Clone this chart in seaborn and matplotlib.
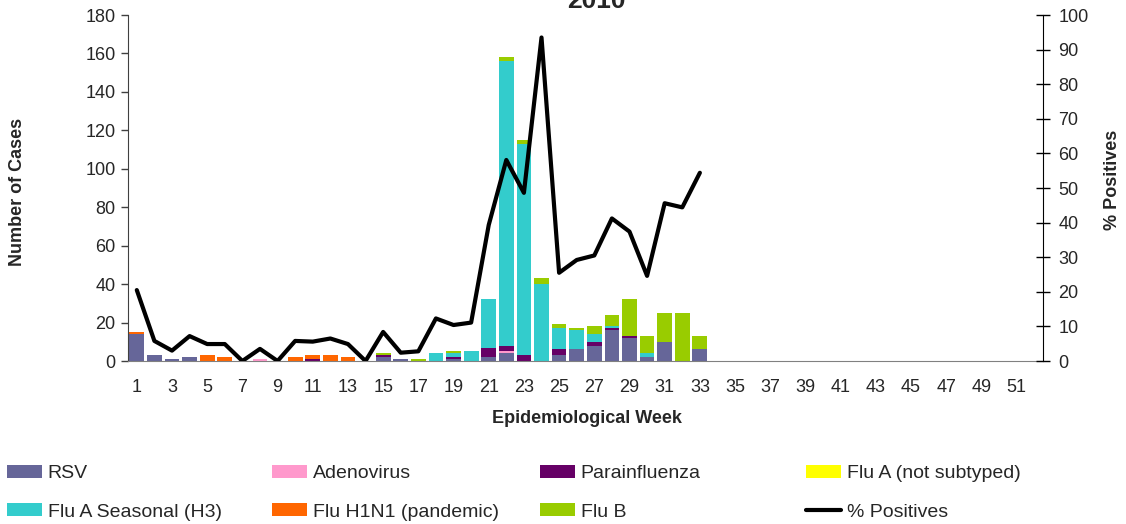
import numpy as np
import pandas as pd
import matplotlib.pyplot as plt
import seaborn as sns
from matplotlib.patches import Patch
from matplotlib.lines import Line2D

# Epidemiological weeks with data (axis runs to week 52)
weeks = list(range(1, 34))

rsv =        [14, 3, 1, 2, 0, 0, 0, 0, 0, 0, 0, 0, 0, 0, 2, 1, 0, 0, 1, 0, 2, 4, 0, 0, 3, 6, 8, 16, 12, 2, 10, 0, 6]
adenovirus = [0, 0, 0, 0, 0, 0, 0, 1, 0, 0, 0, 0, 0, 0, 0, 0, 0, 0, 0, 0, 0, 1, 0, 0, 0, 0, 0, 0, 0, 0, 0, 0, 0]
parainfl =   [0, 0, 0, 0, 0, 0, 0, 0, 0, 0, 1, 0, 0, 0, 1, 0, 0, 0, 1, 0, 5, 3, 3, 0, 3, 0, 2, 1, 1, 0, 0, 0, 0]
flu_a_nst =  [0] * 33
flu_a_h3 =   [0, 0, 0, 0, 0, 0, 0, 0, 0, 0, 0, 0, 0, 0, 0, 0, 0, 4, 2, 5, 25, 148, 110, 40, 11, 10, 4, 1, 0, 2, 0, 0, 0]
flu_h1n1 =   [1, 0, 0, 0, 3, 2, 0, 0, 0, 2, 2, 3, 2, 0, 0, 0, 0, 0, 0, 0, 0, 0, 0, 0, 0, 0, 0, 0, 0, 0, 0, 0, 0]
flu_b =      [0, 0, 0, 0, 0, 0, 0, 0, 0, 0, 0, 0, 0, 0, 1, 0, 1, 0, 1, 0, 0, 2, 2, 3, 2, 1, 4, 6, 19, 9, 15, 25, 7]

pct_positive = [20.5, 5.8, 3.0, 7.2, 4.9, 4.9, 0, 3.5, 0, 5.8, 5.6, 6.5, 4.9, 0, 8.4, 2.4, 2.8,
                12.3, 10.4, 11.1, 39.3, 58.1, 48.6, 93.5, 25.5, 29.2, 30.5, 41.2, 37.4, 24.6,
                45.6, 44.4, 54.4]

series_names = ["RSV", "Adenovirus", "Parainfluenza", "Flu A (not subtyped)",
                "Flu A Seasonal (H3)", "Flu H1N1 (pandemic)", "Flu B"]
series_colors = ["#666699", "#FF99CC", "#660066", "#FFFF00", "#33CCCC", "#FF6600", "#99CC00"]
x_labels = [str(w) for w in range(1, 52, 2)]

sns.set_style("white")
plt.rcParams["font.family"] = ["Liberation Sans", "DejaVu Sans"]

df = pd.DataFrame(dict(zip(series_names,
                           [rsv, adenovirus, parainfl, flu_a_nst, flu_a_h3, flu_h1n1, flu_b])),
                  index=weeks)
cum = df.cumsum(axis=1)

fig = plt.figure(figsize=(11.26, 5.24), dpi=100)
ax = fig.add_axes([128 / 1126, 1 - 361 / 524, 915 / 1126, 346 / 524])

# stacked bars: draw cumulative totals from the top layer down
for name, color in reversed(list(zip(series_names, series_colors))):
    sns.barplot(x=weeks, y=cum[name].values, color=color, saturation=1, native_scale=True,
                width=0.84, errorbar=None, linewidth=0, orient="x", ax=ax)

ax2 = ax.twinx()
sns.lineplot(x=weeks, y=pct_positive, color="black", linewidth=3, ax=ax2)

ax.set_xlim(0.5, 52.5)
ax.set_ylim(0, 180)
ax.set_yticks(range(0, 181, 20))
ax.set_xticks(range(1, 52, 2))
ax.set_xticklabels(x_labels)
ax.set_xticks(np.arange(0.5, 53, 1), minor=True)
ax.tick_params(axis="x", which="major", length=0, pad=13, labelsize=13)
ax.tick_params(axis="x", which="minor", length=5, width=1, color="#808080", direction="out")
ax.tick_params(axis="y", length=5, width=1, color="#404040", direction="out", pad=4, labelsize=13, left=True)

ax2.set_ylim(0, 100)
ax2.set_yticks(range(0, 101, 10))
ax2.tick_params(axis="y", length=10, width=1, color="black", direction="inout", pad=6, labelsize=13, right=True)

for s in ["top", "right"]:
    ax.spines[s].set_visible(False)
ax.spines["left"].set_color("#404040")
ax.spines["bottom"].set_color("#808080")
for s in ["top", "left", "bottom"]:
    ax2.spines[s].set_visible(False)
ax2.spines["right"].set_color("black")

ax.set_ylabel("Number of Cases", fontsize=13, fontweight="bold")
ax.yaxis.set_label_coords(-0.121, 0.488)
ax.yaxis.label.set_va("center")
ax.set_xlabel("Epidemiological Week", fontsize=13, fontweight="bold")
ax.xaxis.set_label_coords(0.502, -0.165)
ax.xaxis.label.set_va("center")
ax2.set_ylabel("% Positives", fontsize=13, fontweight="bold")
ax2.yaxis.set_label_coords(1.0765, 0.523)
ax2.yaxis.label.set_va("center")

fig.suptitle("2010", x=596 / 1126, y=1 - 8 / 524, va="baseline", fontsize=19, fontweight="bold")

# legend: four columns of two entries, spaced like the original
handles = [Patch(facecolor=c, edgecolor="none") for c in series_colors]
handles.append(Line2D([0], [0], color="black", linewidth=3))
labels = series_names + ["% Positives"]
col_x = [7, 272, 540, 806]
for i, x0 in enumerate(col_x):
    idx = [i, i + 4]
    fig.legend([handles[j] for j in idx], [labels[j] for j in idx],
               loc="upper left", bbox_to_anchor=(x0 / 1126, 1 - 465 / 524),
               frameon=False, fontsize=14, borderpad=0, borderaxespad=0,
               handlelength=1.8, handleheight=0.67, handletextpad=0.3, labelspacing=1.07)

fig.savefig("out.png", dpi=100)
